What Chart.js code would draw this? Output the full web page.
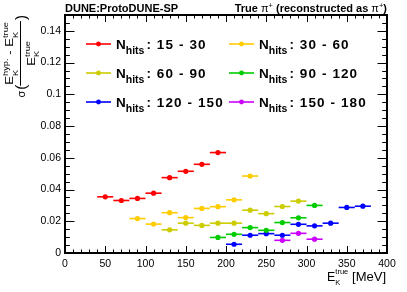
<!DOCTYPE html>
<html>
<head>
<meta charset="utf-8">
<script src="https://cdn.jsdelivr.net/npm/chart.js@4.4.1/dist/chart.umd.min.js"></script>
<style>
  body { margin: 0; background: #fff; }
  canvas { display: block; }
</style>
</head>
<body>
<canvas id="grafico" width="407" height="292"></canvas>
<script>
// axis ticks
const xTicks = [0, 50, 100, 150, 200, 250, 300, 350, 400];
const xTickLabels = ['0', '50', '100', '150', '200', '250', '300', '350', '400'];
const yTicks = [0, 0.02, 0.04, 0.06, 0.08, 0.1, 0.12, 0.14];
const yTickLabels = ['0', '0.02', '0.04', '0.06', '0.08', '0.1', '0.12', '0.14'];

// N_hits categories
const categorias = ['15 - 30', '30 - 60', '60 - 90', '90 - 120', '120 - 150', '150 - 180'];
const cores = ['#ff0000', '#ffcc00', '#cccc00', '#00cc00', '#0000ff', '#cc00ff'];

// half bin width in MeV (horizontal error bar)
const meiaLargura = 10;

// E_K true bin centres and sigma values, one pair per category
const x15a30 = [50, 70, 90, 110, 130, 150, 170, 190];
const y15a30 = [0.0354, 0.0331, 0.0344, 0.0377, 0.0475, 0.0515, 0.0559, 0.0633];
const x30a60 = [90, 110, 130, 150, 170, 190, 210, 230];
const y30a60 = [0.0217, 0.0182, 0.0254, 0.0223, 0.0281, 0.0292, 0.0335, 0.0485];
const x60a90 = [130, 150, 170, 190, 210, 230, 250, 270, 290];
const y60a90 = [0.0146, 0.0188, 0.0174, 0.0188, 0.0188, 0.0270, 0.0248, 0.0293, 0.0327];
const x90a120 = [190, 210, 230, 250, 270, 290, 310];
const y90a120 = [0.0098, 0.0118, 0.0160, 0.0143, 0.0192, 0.0222, 0.0300];
const x120a150 = [210, 230, 250, 270, 290, 310, 330, 350, 370];
const y120a150 = [0.0055, 0.0112, 0.0122, 0.0112, 0.0181, 0.0171, 0.0188, 0.0287, 0.0295];
const x150a180 = [270, 290, 310];
const y150a180 = [0.0080, 0.0124, 0.0087];

const seriesX = [x15a30, x30a60, x60a90, x90a120, x120a150, x150a180];
const seriesY = [y15a30, y30a60, y60a90, y90a120, y120a150, y150a180];

const FONTE = '"Liberation Sans", Arial, Helvetica, sans-serif';

const datasets = categorias.map((cat, i) => ({
    label: cat,
    data: seriesX[i].map((x, j) => ({ x: x, y: seriesY[i][j] })),
    showLine: false,
    pointRadius: 2.6,
    pointHoverRadius: 2.6,
    pointBackgroundColor: cores[i],
    pointBorderColor: cores[i],
    pointBorderWidth: 0,
    borderColor: cores[i],
    backgroundColor: cores[i]
}));

// horizontal error bars, drawn under the markers
const barrasErro = {
    id: 'barrasErro',
    beforeDatasetsDraw(chart) {
        const ctx = chart.ctx;
        const xs = chart.scales.x, ys = chart.scales.y;
        ctx.save();
        ctx.lineWidth = 1.6;
        chart.data.datasets.forEach((ds, i) => {
            ctx.strokeStyle = cores[i];
            ds.data.forEach(p => {
                const py = ys.getPixelForValue(p.y);
                ctx.beginPath();
                ctx.moveTo(xs.getPixelForValue(p.x - meiaLargura), py);
                ctx.lineTo(xs.getPixelForValue(p.x + meiaLargura), py);
                ctx.stroke();
            });
        });
        ctx.restore();
    }
};

// ROOT-like frame with inward ticks on all four sides
const moldura = {
    id: 'moldura',
    afterDraw(chart) {
        const ctx = chart.ctx;
        const a = chart.chartArea;
        const xs = chart.scales.x, ys = chart.scales.y;
        ctx.save();
        ctx.strokeStyle = '#000';
        ctx.lineWidth = 1;
        ctx.beginPath();
        for (let v = 0; v <= 400; v += 10) {
            const px = Math.round(xs.getPixelForValue(v)) + 0.5;
            const len = v % 50 === 0 ? 7 : 3.5;
            ctx.moveTo(px, a.bottom); ctx.lineTo(px, a.bottom - len);
            ctx.moveTo(px, a.top); ctx.lineTo(px, a.top + len);
        }
        for (let k = 0; k <= 30; k++) {
            const v = k * 0.005;
            const py = Math.round(ys.getPixelForValue(v)) + 0.5;
            const len = k % 4 === 0 ? 9.5 : 4.8;
            ctx.moveTo(a.left, py); ctx.lineTo(a.left + len, py);
            ctx.moveTo(a.right, py); ctx.lineTo(a.right - len, py);
        }
        ctx.stroke();
        ctx.lineWidth = 2;
        ctx.strokeRect(a.left, a.top, a.right - a.left, a.bottom - a.top);
        ctx.restore();
    }
};

const textoEspacado = (ctx, txt, x, y, extra) => {
    for (const c of txt) {
        ctx.fillText(c, x, y);
        x += ctx.measureText(c).width + extra;
    }
    return x;
};

// legend with subscript "hits"
const legenda = {
    id: 'legenda',
    afterDraw(chart) {
        const ctx = chart.ctx;
        const colunas = [86, 229];
        const linhas = [44, 73, 102];
        ctx.save();
        ctx.textAlign = 'left';
        ctx.textBaseline = 'alphabetic';
        categorias.forEach((cat, i) => {
            const cx = colunas[i % 2], cy = linhas[Math.floor(i / 2)];
            ctx.strokeStyle = cores[i];
            ctx.fillStyle = cores[i];
            ctx.lineWidth = 1.6;
            ctx.beginPath();
            ctx.moveTo(cx, cy); ctx.lineTo(cx + 25, cy);
            ctx.stroke();
            ctx.beginPath();
            ctx.arc(cx + 12.5, cy, 2.4, 0, Math.PI * 2);
            ctx.fill();
            ctx.fillStyle = '#000';
            let tx = cx + 30;
            ctx.font = 'bold 13.5px ' + FONTE;
            ctx.fillText('N', tx, cy + 5);
            tx += ctx.measureText('N').width;
            ctx.font = 'bold 10.5px ' + FONTE;
            ctx.fillText('hits', tx, cy + 10);
            tx += ctx.measureText('hits').width + 2;
            ctx.font = 'bold 13.5px ' + FONTE;
            textoEspacado(ctx, ': ' + cat, tx, cy + 5, 1.1);
        });
        ctx.restore();
    }
};

// titles: top header, x title, rotated y title
const titulos = {
    id: 'titulos',
    afterDraw(chart) {
        const ctx = chart.ctx;
        const a = chart.chartArea;
        ctx.save();
        ctx.fillStyle = '#000';
        ctx.textBaseline = 'alphabetic';
        ctx.textAlign = 'left';

        ctx.font = 'bold 11px ' + FONTE;
        ctx.fillText('DUNE:ProtoDUNE-SP', a.left, 11.5);

        // right header, composed from pieces
        const partes = [
            ['True ', 'bold 11px', 0], ['\u03c0', '11px', 0], ['+', '7.5px', -4],
            [' (reconstructed as ', 'bold 11px', 0], ['\u03c0', '11px', 0], ['+', '7.5px', -4],
            [')', 'bold 11px', 0]
        ];
        let total = 0;
        partes.forEach(p => { ctx.font = p[1] + ' ' + FONTE; total += ctx.measureText(p[0]).width; });
        let px = a.right - total;
        partes.forEach(p => {
            ctx.font = p[1] + ' ' + FONTE;
            ctx.fillText(p[0], px, 11.5 + p[2]);
            px += ctx.measureText(p[0]).width;
        });

        // x title
        ctx.font = '13px ' + FONTE;
        ctx.textAlign = 'right';
        ctx.fillText('[MeV]', a.right - 1, 281);
        ctx.textAlign = 'left';
        ctx.font = '12.5px ' + FONTE;
        ctx.fillText('E', 327, 281);
        const wE = ctx.measureText('E').width;
        ctx.font = '7.5px ' + FONTE;
        ctx.fillText('true', 327 + wE, 274);
        ctx.fillText('K', 327 + wE, 285);

        // y title, rotated (stretched a bit along the text like the original)
        const rot = (txt, fonte, yIni, xBase, sx = 1.15) => {
            ctx.font = fonte + ' ' + FONTE;
            ctx.save();
            ctx.translate(xBase, yIni);
            ctx.rotate(-Math.PI / 2);
            ctx.scale(sx, 1);
            ctx.fillText(txt, 0, 0);
            ctx.restore();
            return ctx.measureText(txt).width * sx;
        };
        let y = 97.5;
        y -= rot('\u03c3', '11px', y, 25, 1);
        y -= 1;
        y -= rot('(', '15px', y, 26, 1);
        const inicioFrac = y + 1;
        // numerator
        y -= rot('E', '11.5px', y, 13);
        rot('K', '8px', y, 17.5);
        y -= rot('hyp.', '8px', y, 8);
        y -= rot(' - ', '11.5px', y, 13);
        y -= rot('E', '11.5px', y, 13);
        rot('K', '8px', y, 17.5);
        y -= rot('true', '8px', y, 8);
        const fimFrac = y - 1;
        ctx.fillRect(20, fimFrac, 1, inicioFrac - fimFrac);
        // denominator, centred
        ctx.font = '11.5px ' + FONTE;
        const wE2 = ctx.measureText('E').width * 1.15;
        ctx.font = '8px ' + FONTE;
        const wDen = wE2 + ctx.measureText('true').width * 1.15;
        let yd = (inicioFrac + fimFrac) / 2 + wDen / 2;
        yd -= rot('E', '11.5px', yd, 35);
        rot('K', '8px', yd, 39);
        rot('true', '8px', yd, 30);
        rot(')', '15px', fimFrac - 1, 26, 1);
        ctx.restore();
    }
};

new Chart(document.getElementById('grafico'), {
    type: 'line',
    data: { datasets: datasets },
    options: {
        responsive: false,
        animation: false,
        layout: { padding: { top: 15, right: 20, left: 0, bottom: 0 } },
        plugins: {
            legend: { display: false },
            tooltip: { enabled: false }
        },
        scales: {
            x: {
                type: 'linear',
                min: 0,
                max: 400,
                afterBuildTicks: s => { s.ticks = xTicks.map(v => ({ value: v })); },
                afterFit: s => { s.height = 39; },
                grid: { display: false, drawTicks: false },
                border: { display: false },
                ticks: {
                    padding: 5,
                    autoSkip: false,
                    maxRotation: 0,
                    color: '#000',
                    font: { family: FONTE, size: 10.5 },
                    callback: (v, i) => xTickLabels[i]
                }
            },
            y: {
                type: 'linear',
                min: 0,
                max: 0.15,
                afterBuildTicks: s => { s.ticks = yTicks.map(v => ({ value: v })); },
                afterFit: s => { s.width = 65; },
                grid: { display: false, drawTicks: false },
                border: { display: false },
                ticks: {
                    padding: 4,
                    autoSkip: false,
                    color: '#000',
                    font: { family: FONTE, size: 10.5 },
                    callback: (v, i) => yTickLabels[i]
                }
            }
        }
    },
    plugins: [barrasErro, moldura, legenda, titulos]
});
</script>
</body>
</html>
